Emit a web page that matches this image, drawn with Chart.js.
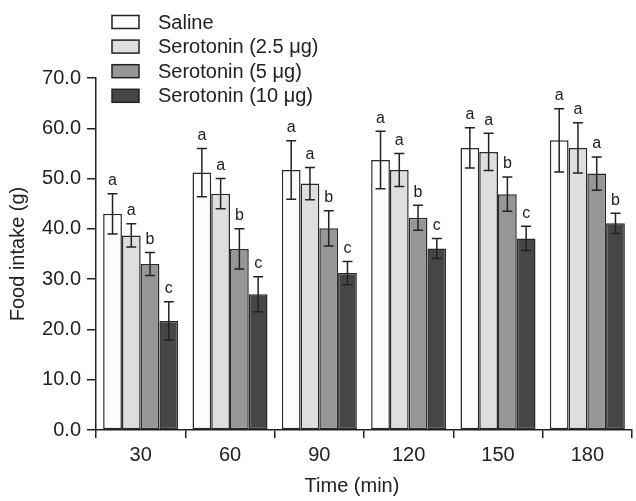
<!DOCTYPE html>
<html>
<head>
<meta charset="utf-8">
<script src="https://cdn.jsdelivr.net/npm/chart.js@4/dist/chart.umd.min.js"></script>
<style>
    html, body { margin: 0; padding: 0; background: #fff; }
    #wrap { width: 636px; height: 501px; }
</style>
</head>
<body>
<div id="wrap"><canvas id="myChart" width="636" height="501"></canvas></div>
<script>
// time points (min)
let timeLabels = ["30", "60", "90", "120", "150", "180"];
let seriesNames = ["Saline", "Serotonin (2.5 \u03bcg)", "Serotonin (5 \u03bcg)", "Serotonin (10 \u03bcg)"];

// mean food intake (g)
let saline = [43.0, 51.2, 51.7, 53.7, 56.1, 57.6];
let sero25 = [38.7, 47.0, 49.0, 51.7, 55.3, 56.1];
let sero5 = [33.0, 36.0, 40.1, 42.2, 46.9, 51.0];
let sero10 = [21.7, 27.0, 31.2, 36.1, 38.1, 41.1];

// error bar half heights
let salineErr = [4.0, 4.8, 5.8, 5.7, 4.0, 6.3];
let sero25Err = [2.3, 3.0, 3.2, 3.3, 3.7, 5.0];
let sero5Err = [2.3, 4.0, 3.5, 2.5, 3.4, 3.3];
let sero10Err = [3.8, 3.5, 2.3, 2.0, 2.4, 2.0];

// significance letters
let salineSig = ["a", "a", "a", "a", "a", "a"];
let sero25Sig = ["a", "a", "a", "a", "a", "a"];
let sero5Sig = ["b", "b", "b", "b", "b", "a"];
let sero10Sig = ["c", "c", "c", "c", "c", "b"];

let yTicks = [0, 10, 20, 30, 40, 50, 60, 70];

let fillColors = ["#fcfcfc", "#dedede", "#969696", "#464646"];
let fontFamily = "'Liberation Sans', Arial, sans-serif";
let inkColor = "#222222";

let errData = [salineErr, sero25Err, sero5Err, sero10Err];
let sigData = [salineSig, sero25Sig, sero5Sig, sero10Sig];

// error bars + letters
let errorBarPlugin = {
    id: "errorBars",
    afterDatasetsDraw: function(chart) {
        let ctx = chart.ctx;
        let yScale = chart.scales.y;
        ctx.save();
        chart.data.datasets.forEach((ds, di) => {
            let meta = chart.getDatasetMeta(di);
            meta.data.forEach((bar, i) => {
                let v = ds.data[i];
                let e = errData[di][i];
                let yTop = yScale.getPixelForValue(v + e);
                let yBot = yScale.getPixelForValue(v - e);
                let x = bar.x;
                ctx.strokeStyle = inkColor;
                ctx.lineWidth = 1.5;
                ctx.beginPath();
                ctx.moveTo(x, yTop);
                ctx.lineTo(x, yBot);
                ctx.moveTo(x - 5, yTop);
                ctx.lineTo(x + 5, yTop);
                ctx.moveTo(x - 5, yBot);
                ctx.lineTo(x + 5, yBot);
                ctx.stroke();
                ctx.fillStyle = inkColor;
                ctx.font = "16px " + fontFamily;
                ctx.textAlign = "center";
                ctx.textBaseline = "bottom";
                ctx.fillText(sigData[di][i], x, yTop - 5);
            });
        });
        ctx.restore();
    }
};

// legend at the top left and the x axis title
let legendPlugin = {
    id: "boxLegend",
    afterDraw: function(chart) {
        let ctx = chart.ctx;
        let area = chart.chartArea;
        ctx.save();
        chart.data.datasets.forEach((ds, di) => {
            let cy = 22 + di * 24.6;
            ctx.fillStyle = ds.backgroundColor;
            ctx.strokeStyle = inkColor;
            ctx.lineWidth = 1.5;
            ctx.fillRect(112, cy - 6.5, 27, 13);
            ctx.strokeRect(112, cy - 6.5, 27, 13);
            ctx.fillStyle = inkColor;
            ctx.font = "20px " + fontFamily;
            ctx.textAlign = "left";
            ctx.textBaseline = "middle";
            ctx.fillText(ds.label, 158, cy + 1);
        });
        ctx.font = "20px " + fontFamily;
        ctx.textAlign = "center";
        ctx.textBaseline = "middle";
        ctx.fillText("Time (min)", (area.left + area.right) / 2 - 12, 486);
        ctx.restore();
    }
};

function initChart() {
    let seriesValues = [saline, sero25, sero5, sero10];
    let datasets = seriesValues.map((vals, i) => ({
        label: seriesNames[i],
        data: vals,
        backgroundColor: fillColors[i],
        borderColor: "#2a2a2a",
        borderWidth: 1.5,
        borderSkipped: false,
        categoryPercentage: 0.84,
        barPercentage: 1.0
    }));

    let ctx = document.getElementById("myChart").getContext("2d");
    new Chart(ctx, {
        type: "bar",
        data: { labels: timeLabels, datasets: datasets },
        options: {
            responsive: false,
            animation: false,
            layout: { padding: { top: 78, right: 4, left: 0, bottom: 0 } },
            plugins: {
                legend: { display: false },
                tooltip: { enabled: false }
            },
            scales: {
                x: {
                    afterFit: function(scale) { scale.height = 71; },
                    grid: {
                        display: true,
                        offset: true,
                        drawOnChartArea: false,
                        drawTicks: true,
                        tickLength: 8,
                        color: inkColor,
                        lineWidth: 1.5
                    },
                    border: { display: true, color: inkColor, width: 1.5 },
                    ticks: {
                        color: inkColor,
                        padding: 5,
                        font: { family: fontFamily, size: 20 }
                    }
                },
                y: {
                    min: 0,
                    max: 70,
                    afterFit: function(scale) { scale.width = 96; },
                    afterBuildTicks: function(scale) {
                        scale.ticks = yTicks.map(v => ({ value: v }));
                    },
                    grid: {
                        display: true,
                        drawOnChartArea: false,
                        drawTicks: true,
                        tickLength: 9,
                        color: inkColor,
                        lineWidth: 1.5
                    },
                    border: { display: true, color: inkColor, width: 1.5 },
                    ticks: {
                        color: inkColor,
                        padding: 6,
                        font: { family: fontFamily, size: 20 },
                        callback: function(value) { return Number(value).toFixed(1); }
                    },
                    title: {
                        display: true,
                        text: "Food intake (g)",
                        color: inkColor,
                        font: { family: fontFamily, size: 20 },
                        padding: { top: 6, bottom: 0 }
                    }
                }
            }
        },
        plugins: [errorBarPlugin, legendPlugin]
    });
}

initChart();
</script>
</body>
</html>
